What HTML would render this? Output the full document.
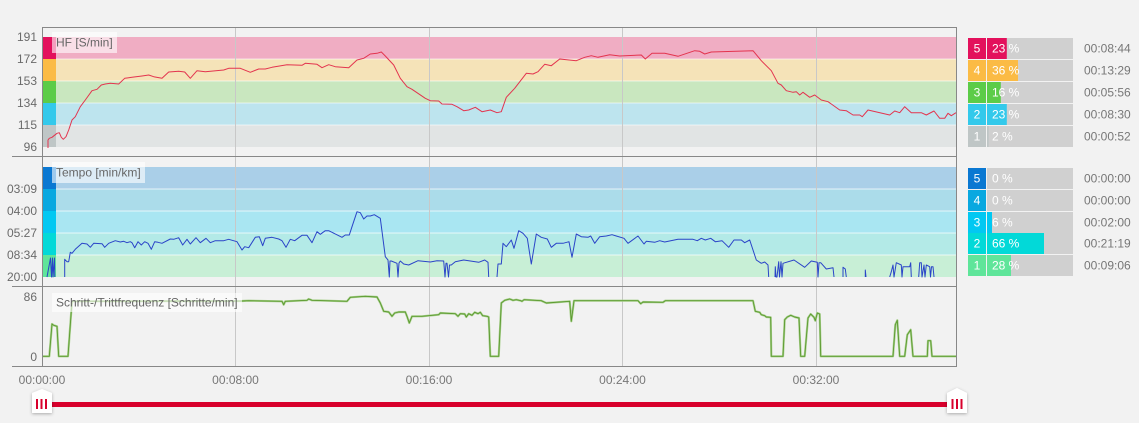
<!DOCTYPE html>
<html><head><meta charset="utf-8"><style>
html,body{margin:0;padding:0;background:#f2f2f2;}
svg{display:block;font-family:"Liberation Sans",Arial,sans-serif;}
</style></head><body>
<svg width="1139" height="423" viewBox="0 0 1139 423" xmlns="http://www.w3.org/2000/svg">
<defs>
<filter id="sh" x="-50%" y="-50%" width="200%" height="200%"><feDropShadow dx="0" dy="1" stdDeviation="1.5" flood-color="#000" flood-opacity="0.3"/></filter>
</defs>
<rect width="1139" height="423" fill="#f2f2f2"/>

<!-- HR bands -->
<rect x="42" y="37" width="914" height="22" fill="#f0adc3"/>
<rect x="42" y="59" width="914" height="22" fill="#f5e3b8"/>
<rect x="42" y="81" width="914" height="22" fill="#c9e7bf"/>
<rect x="42" y="103" width="914" height="22" fill="#bde4ee"/>
<rect x="42" y="125" width="914" height="22" fill="#e1e4e4"/>
<g stroke="#ffffff" stroke-opacity="0.6" stroke-width="1">
<line x1="42" y1="59" x2="956" y2="59"/><line x1="42" y1="81" x2="956" y2="81"/><line x1="42" y1="103" x2="956" y2="103"/><line x1="42" y1="125" x2="956" y2="125"/>
</g>
<rect x="42" y="37" width="14" height="22" fill="#e3115c"/>
<rect x="42" y="59" width="14" height="22" fill="#fbbb45"/>
<rect x="42" y="81" width="14" height="22" fill="#5ccc48"/>
<rect x="42" y="103" width="14" height="22" fill="#33c9eb"/>
<rect x="42" y="125" width="14" height="22" fill="#bfc6c6"/>

<!-- Tempo bands -->
<rect x="42" y="167" width="914" height="22" fill="#aacfe8"/>
<rect x="42" y="189" width="914" height="22" fill="#abdcea"/>
<rect x="42" y="211" width="914" height="22" fill="#a9e6f2"/>
<rect x="42" y="233" width="914" height="22" fill="#b3eae7"/>
<rect x="42" y="255" width="914" height="22" fill="#c8efd6"/>
<g stroke="#ffffff" stroke-opacity="0.7" stroke-width="1">
<line x1="42" y1="189" x2="956" y2="189"/><line x1="42" y1="211" x2="956" y2="211"/><line x1="42" y1="233" x2="956" y2="233"/><line x1="42" y1="255" x2="956" y2="255"/>
</g>
<rect x="42" y="167" width="14" height="22" fill="#0a78d2"/>
<rect x="42" y="189" width="14" height="22" fill="#09a8e0"/>
<rect x="42" y="211" width="14" height="22" fill="#02c8f2"/>
<rect x="42" y="233" width="14" height="22" fill="#02d9d8"/>
<rect x="42" y="255" width="14" height="22" fill="#5fe59a"/>

<!-- vertical grid -->
<g stroke="#c8c8c8" stroke-width="1">
<line x1="235.5" y1="27" x2="235.5" y2="366"/>
<line x1="429.5" y1="27" x2="429.5" y2="366"/>
<line x1="622.5" y1="27" x2="622.5" y2="366"/>
<line x1="816.5" y1="27" x2="816.5" y2="366"/>
</g>

<!-- HR line -->
<polyline fill="none" stroke="#e3344e" stroke-width="1" stroke-linejoin="round" points="48,148 48,140 49.3,138.3 52,137.3 57,133.3 59.3,132.7 61.3,137.3 63.3,139.3 66,136.7 68.7,130 72,120 75.3,116.7 80.3,106.7 85.3,100 92,90.7 97,89.3 101.3,85 105.3,84 110.3,83.3 118.7,84 124.7,78.3 132,77.3 142,76 148.7,75 153.7,76.7 162,78.3 168.7,72 178.7,71.3 184.7,72 190.3,78.3 197,70.7 205.3,71.7 223.7,70 228.7,68.3 240.3,68.3 250.3,72.3 258.7,69 265.3,69 272,67.3 287,64.7 302,65.3 305.3,63.3 317,64.3 322,67.7 328.7,64.7 335.3,66.7 348.7,67.7 357,60 363.7,58.3 370.3,54 377,53.3 381.3,52 385.3,56 393.7,65 400.3,78.3 407,86.7 412,89.3 425.3,98.3 430.3,100.7 438.7,101 442,104 452,104.3 457,106.7 463.7,110.7 468.7,110 475.3,107.3 482,111.7 490.3,110 497,112.7 501.3,111.7 506.3,97.3 514.7,88.3 526.3,73.3 533,74 538,71.7 544.7,64.3 551.3,65.7 559.7,59 576.3,60.7 584.7,57.3 591.3,55.7 598,57.3 609.7,54.7 619.7,56 641.3,55 645.3,59 652,53.3 664.7,53.3 678,56.3 694.7,50.7 699.7,51.3 704.7,54 711.3,52 753,50.7 761.3,60.7 771.3,70.7 778,83.3 781.3,85 786.3,90.7 793,92.3 796.3,91.7 799.7,95 803,92.3 809.7,97.3 814.7,95 821.3,100 828,101.7 831.3,104 839.7,110 846.3,110.7 853,115 859.7,115 862.3,116.7 868,110 889.7,115 894.7,111 899.7,112.7 904.7,106.7 911.3,112.7 921.3,112.7 926.3,115 934,111 939.7,118.3 944.7,118.3 948,113.3 951.3,115.7 956,112.7"/>

<!-- Tempo line -->
<g fill="none" stroke="#2a44c8" stroke-width="1" stroke-linejoin="round">
<polyline points="47,277 50.5,258 51.5,277 52.5,258 53,277 54.5,258 54.8,277"/>
<polyline points="64.7,277 64.7,259.3 67,261.7 68.7,261.7 70.3,252.3 72,253.3 75.3,249.3 82,243.3 87,244 90.3,247.3 93.7,243.3 102,243.7 104.7,247.3 108.7,243.3 115.3,240.7 120.3,242 123.7,241.3 127,242.7 130.3,241.7 132,242.7 134.7,247.7 138,241.7 141.3,245 144.7,241.7 148,243.3 151.3,249.3 154.7,241.7 158,242.3 162,243.3 170.3,239 173.7,239.3 178.7,237.7 182.7,245 187,239.3 190.3,244 196,237.7 200.3,242.7 206,238.3 210.3,242.7 215.3,240.7 223.7,240.7 228.7,239.3 237,241.7 242,250 244.7,246.7 248.7,247.7 255.3,237.3 259.3,236.7 262.7,245.7 265.3,238.3 272,237.3 278.7,239 282,240.7 286,247.3 290.3,239.3 294.7,240.7 302,235.3 307,235.3 312,242.7 317,231.7 320.3,234.3 325.3,230.7 328.7,230.7 342,237.3 345.3,235 349.3,235 352,226.7 357,211.7 360.3,212.7 363.7,219 367,216 370.3,216 374.3,214.7 380.3,218.3 385.3,256.7 388,260 389.3,277 390,261 391.3,261 397,263.3 398,277 399,263 400.3,261 403.7,264 408.7,265 418,260.7 430.3,262 437,260.7 443.7,261 445,277 446,263.3 447,263.3 448.5,277 449.5,265 451.3,265 455.3,261.7 463.7,260 478.7,262.3 484.7,260 488,262.3 488.7,277"/>
<polyline points="497,277 498,264 501.3,264 503,243.3 506.3,246.7 511.3,240 514,248.3 518.7,230.7 523,233.3 527.3,238.3 531.3,264 536.3,234 541.3,237.3 547.3,239 551.3,247.3 556.3,243.3 563,243.3 569,241.7 572,257.3 576.3,234 581.3,236.7 588,237.3 590.7,236 594.7,243.3 599.7,236.7 606.3,236 612,234.7 616.3,236 624,238.3 628,243.3 638,236 644,244 646.3,241.3 654.7,242.3 659.7,240.7 664.7,242 678,239.3 693,239.3 697.3,240.7 701.3,238.3 705.3,240 710.7,238.3 715.3,241.7 722,240.7 728.7,247.3 734,240 741.3,240 744.7,242.7 749.7,240 756.3,260 761.3,263.3 764.7,262 768,265 768.7,277"/>
<polyline points="775,277 775.3,266.7 776,277 777,277 778.7,261.7 779.5,277 781,261.7 782,277 783,263.3 794,260 804.7,267.3 811.3,261 817.3,262.3 818,277 819,262.7 820.7,262.7 826.3,269 833,267.7 834,277"/>
<polyline points="843,277 843,267.3 845.3,269 846.3,277"/>
<polyline points="865.3,277 865.3,270 866,277"/>
<polyline points="889.7,277 891.3,271.7 893,265 894,277 896.3,262.7 901.3,265 902,277 903,266.7 909.7,266.7 910.7,262.7 911.3,277"/>
<polyline points="918.7,277 919.7,262.7 921.3,262.7 922,277 924,265 925,277 926.3,265 929.7,266.7 930.5,277 931.5,266.7 933,266.7 934,277"/>
</g>

<!-- Cadence line -->
<g fill="none" stroke-linejoin="round">
<polyline stroke="#a9d08e" stroke-width="2.2" points="42,356.3 49.3,356.3 52,324 53.7,325.3 57,326.3 58.7,356.3 68,356.3 72,301.3 242,301 248.7,300.7 282,301.3 283.7,304.7 285.3,301.3 307,300.3 308.7,299 312,300.3 347,301.3 350.3,297.3 365.3,296.3 377,297 380.3,303 383.7,311.3 388.7,312 392,316.3 394.7,313 398.7,312 405.3,312 407,316.3 409.3,323 412,316.3 422,316.3 438.7,314.7 440.3,313 455.3,313.7 458,316.3 460.3,313.7 464.7,314 466.3,317 468.7,313.7 472,315.3 474.7,312.3 478,313.7 480.3,312.3 482.7,315.7 487,316.3 488.7,317 490.3,356.3 498.7,356.3 501.3,303 504.7,300.3 509.7,299 513,300.3 516.3,299.7 520.7,300.7 522,301.3 524,299.7 541.3,300.7 546.3,303 569.7,301.3 571.3,321.3 574,300.7 638,300.7 640.7,303.7 643,302 663,302.3 665.3,300.7 753,300.7 755.3,311.3 759.7,312.3 761.3,314.7 764.7,315.7 766.3,317 770.7,317.3 771.3,356.3 783,356.3 784.7,319.7 787.3,317 790.7,315.3 794.7,317 799,318 800.7,356.3 804.7,356.3 808,318 810.7,314 814,317.3 815.3,320.7 817.3,313 819.7,314 820.7,356.3 893,356.3 895.3,324.7 897.3,320.3 899.7,356.3 904.7,356.3 907.3,334.7 910.7,329.7 913,356.3 927.3,356.3 928,340.7 930.7,340.7 932,356.3 956,356.3"/>
<polyline stroke="#5b9a2f" stroke-width="0.9" points="42,356.3 49.3,356.3 52,324 53.7,325.3 57,326.3 58.7,356.3 68,356.3 72,301.3 242,301 248.7,300.7 282,301.3 283.7,304.7 285.3,301.3 307,300.3 308.7,299 312,300.3 347,301.3 350.3,297.3 365.3,296.3 377,297 380.3,303 383.7,311.3 388.7,312 392,316.3 394.7,313 398.7,312 405.3,312 407,316.3 409.3,323 412,316.3 422,316.3 438.7,314.7 440.3,313 455.3,313.7 458,316.3 460.3,313.7 464.7,314 466.3,317 468.7,313.7 472,315.3 474.7,312.3 478,313.7 480.3,312.3 482.7,315.7 487,316.3 488.7,317 490.3,356.3 498.7,356.3 501.3,303 504.7,300.3 509.7,299 513,300.3 516.3,299.7 520.7,300.7 522,301.3 524,299.7 541.3,300.7 546.3,303 569.7,301.3 571.3,321.3 574,300.7 638,300.7 640.7,303.7 643,302 663,302.3 665.3,300.7 753,300.7 755.3,311.3 759.7,312.3 761.3,314.7 764.7,315.7 766.3,317 770.7,317.3 771.3,356.3 783,356.3 784.7,319.7 787.3,317 790.7,315.3 794.7,317 799,318 800.7,356.3 804.7,356.3 808,318 810.7,314 814,317.3 815.3,320.7 817.3,313 819.7,314 820.7,356.3 893,356.3 895.3,324.7 897.3,320.3 899.7,356.3 904.7,356.3 907.3,334.7 910.7,329.7 913,356.3 927.3,356.3 928,340.7 930.7,340.7 932,356.3 956,356.3"/>
</g>

<!-- label boxes -->
<rect x="52" y="32" width="65" height="21" fill="#ffffff" fill-opacity="0.6"/>
<text x="56" y="46.5" font-size="12" fill="#666">HF [S/min]</text>
<rect x="52" y="162" width="93" height="21" fill="#ffffff" fill-opacity="0.6"/>
<text x="56" y="176.5" font-size="12" fill="#666">Tempo [min/km]</text>
<rect x="52" y="293" width="190" height="19" fill="#ffffff" fill-opacity="0.6"/>
<text x="56" y="306.5" font-size="12" fill="#666">Schritt-/Trittfrequenz [Schritte/min]</text>

<!-- axes -->
<g stroke="#888" stroke-width="1">
<line x1="42" y1="27.5" x2="957" y2="27.5"/>
<line x1="42.5" y1="27" x2="42.5" y2="367"/>
<line x1="956.5" y1="27" x2="956.5" y2="367"/>
<line x1="12" y1="156.5" x2="957" y2="156.5"/>
<line x1="12" y1="286.5" x2="957" y2="286.5"/>
<line x1="12" y1="366.5" x2="957" y2="366.5"/>
</g>

<!-- y labels -->
<g font-size="12" fill="#6a6a6a" text-anchor="end">
<text x="37" y="41">191</text>
<text x="37" y="63">172</text>
<text x="37" y="85">153</text>
<text x="37" y="107">134</text>
<text x="37" y="129">115</text>
<text x="37" y="151">96</text>
<text x="37" y="193">03:09</text>
<text x="37" y="215">04:00</text>
<text x="37" y="237">05:27</text>
<text x="37" y="259">08:34</text>
<text x="37" y="281">20:00</text>
<text x="37" y="301">86</text>
<text x="37" y="361">0</text>
</g>

<!-- x labels -->
<g font-size="12" fill="#777" text-anchor="middle">
<text x="42" y="384">00:00:00</text>
<text x="235.5" y="384">00:08:00</text>
<text x="429" y="384">00:16:00</text>
<text x="622.5" y="384">00:24:00</text>
<text x="816" y="384">00:32:00</text>
</g>

<!-- HR legend -->
<g font-size="12">
<rect x="968" y="38" width="18" height="21" fill="#e3115c"/><rect x="987" y="38" width="86" height="21" fill="#d0d0d0"/><rect x="987" y="38" width="19.8" height="21" fill="#e3115c"/>
<rect x="968" y="60" width="18" height="21" fill="#fbbb45"/><rect x="987" y="60" width="86" height="21" fill="#d0d0d0"/><rect x="987" y="60" width="31" height="21" fill="#fbbb45"/>
<rect x="968" y="82" width="18" height="21" fill="#5ccc48"/><rect x="987" y="82" width="86" height="21" fill="#d0d0d0"/><rect x="987" y="82" width="13.8" height="21" fill="#5ccc48"/>
<rect x="968" y="104" width="18" height="21" fill="#33c9eb"/><rect x="987" y="104" width="86" height="21" fill="#d0d0d0"/><rect x="987" y="104" width="19.8" height="21" fill="#33c9eb"/>
<rect x="968" y="126" width="18" height="21" fill="#bfc6c6"/><rect x="987" y="126" width="86" height="21" fill="#d0d0d0"/><rect x="987" y="126" width="1.7" height="21" fill="#bfc6c6"/>
<g fill="#fff" text-anchor="middle">
<text x="977" y="52.5">5</text><text x="977" y="74.5">4</text><text x="977" y="96.5">3</text><text x="977" y="118.5">2</text><text x="977" y="140.5">1</text>
</g>
<g fill="#fff">
<text x="992" y="52.5">23 %</text><text x="992" y="74.5">36 %</text><text x="992" y="96.5">16 %</text><text x="992" y="118.5">23 %</text><text x="992" y="140.5">2 %</text>
</g>
<g fill="#777">
<text x="1084" y="52.5">00:08:44</text><text x="1084" y="74.5">00:13:29</text><text x="1084" y="96.5">00:05:56</text><text x="1084" y="118.5">00:08:30</text><text x="1084" y="140.5">00:00:52</text>
</g>
</g>

<!-- Tempo legend -->
<g font-size="12">
<rect x="968" y="168" width="18" height="21" fill="#0a78d2"/><rect x="987" y="168" width="86" height="21" fill="#d0d0d0"/>
<rect x="968" y="190" width="18" height="21" fill="#09a8e0"/><rect x="987" y="190" width="86" height="21" fill="#d0d0d0"/>
<rect x="968" y="212" width="18" height="21" fill="#02c8f2"/><rect x="987" y="212" width="86" height="21" fill="#d0d0d0"/><rect x="987" y="212" width="5" height="21" fill="#02c8f2"/>
<rect x="968" y="233" width="18" height="21" fill="#02d9d8"/><rect x="987" y="233" width="86" height="21" fill="#d0d0d0"/><rect x="987" y="233" width="57" height="21" fill="#02d9d8"/>
<rect x="968" y="255" width="18" height="21" fill="#5fe59a"/><rect x="987" y="255" width="86" height="21" fill="#d0d0d0"/><rect x="987" y="255" width="24" height="21" fill="#5fe59a"/>
<g fill="#fff" text-anchor="middle">
<text x="977" y="182.5">5</text><text x="977" y="204.5">4</text><text x="977" y="226.5">3</text><text x="977" y="247.5">2</text><text x="977" y="269.5">1</text>
</g>
<g fill="#fff">
<text x="992" y="182.5">0 %</text><text x="992" y="204.5">0 %</text><text x="992" y="226.5">6 %</text><text x="992" y="247.5">66 %</text><text x="992" y="269.5">28 %</text>
</g>
<g fill="#777">
<text x="1084" y="182.5">00:00:00</text><text x="1084" y="204.5">00:00:00</text><text x="1084" y="226.5">00:02:00</text><text x="1084" y="247.5">00:21:19</text><text x="1084" y="269.5">00:09:06</text>
</g>
</g>

<!-- slider -->
<rect x="50" y="402" width="900" height="5" fill="#d8002c"/>
<path d="M32,393 L42,389 L52,393 L52,413 L32,413 Z" fill="#fff" filter="url(#sh)"/>
<rect x="36" y="399" width="2" height="10" fill="#d8002c"/>
<rect x="40.5" y="399" width="2" height="10" fill="#d8002c"/>
<rect x="45" y="399" width="2" height="10" fill="#d8002c"/>
<path d="M947,393 L957,388 L967,393 L967,413 L947,413 Z" fill="#fff" filter="url(#sh)"/>
<rect x="951.5" y="399" width="2" height="10" fill="#d8002c"/>
<rect x="956" y="399" width="2" height="10" fill="#d8002c"/>
<rect x="960.5" y="399" width="2" height="10" fill="#d8002c"/>
</svg>
</body></html>
